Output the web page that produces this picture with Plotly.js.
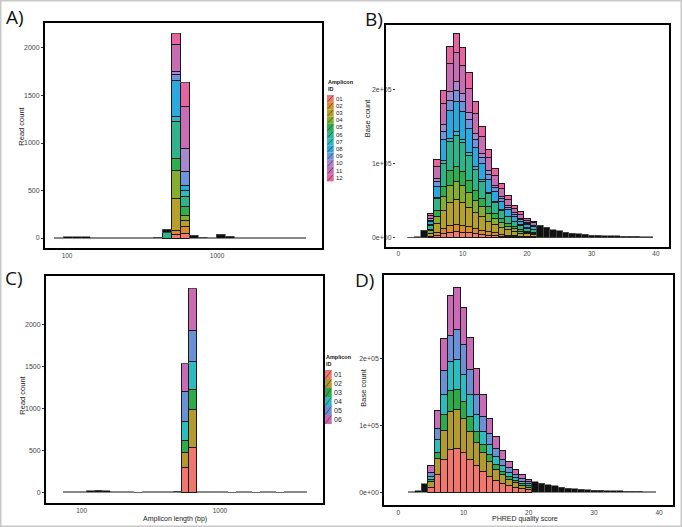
<!DOCTYPE html>
<html>
<head>
<meta charset="utf-8">
<script src="https://cdn.plot.ly/plotly-3.0.1.min.js"></script>
<style>
  html, body { margin: 0; padding: 0; background: #fff; }
  #chart { width: 682px; height: 527px; }
</style>
</head>
<body>
<div id="chart"></div>
<script>
const W = 682;
const H = 527;

const ids12 = ["01", "02", "03", "04", "05", "06", "07", "08", "09", "10", "11", "12"];
const ids6 = ["01", "02", "03", "04", "05", "06"];
const hue12 = ["#F07A70", "#D98C2A", "#B4A02A", "#86AE2E", "#2FAE4E", "#2DB48A",
               "#2FB8BE", "#2AA8E0", "#6E94E0", "#A887D0", "#C86CB4", "#E8649F"];
const hue6 = ["#F0776E", "#B39A2C", "#2DAA4A", "#2ABCBE", "#6A90D6", "#C96CB5"];

// A) read length, log10(bp) bin centres, 12 amplicons
const lenBinsA = [2.665, 2.725, 2.785];
const readsA = [
  [0, 42, 46],
  [0, 42, 77],
  [0, 333, 63],
  [0, 298, 53],
  [0, 123, 88],
  [58, 386, 112],
  [0, 53, 56],
  [0, 386, 60],
  [0, 53, 140],
  [0, 35, 246],
  [0, 281, 439],
  [0, 123, 253],
];
// tiny counts of the remaining bins (drawn as the black baseline)
const lenBinsRestA = [1.945, 2.005, 2.065, 2.125, 2.185, 2.245, 2.305, 2.365, 2.425, 2.485,
                      2.545, 2.605, 2.665, 2.725, 2.785, 2.845, 2.905, 2.965, 3.025, 3.085,
                      3.145, 3.205, 3.265, 3.325, 3.385, 3.445, 3.505, 3.565];
const readsRestA = [4, 12, 14, 12, 5, 4, 4, 3, 4, 4,
                    5, 8, 35, 0, 0, 28, 6, 5, 38, 18,
                    5, 4, 4, 3, 4, 3, 4, 4];

// B) PHRED score, 12 amplicons, thousands of bases
const qualBinsB = [5, 6, 7, 8, 9, 10, 11, 12, 13, 14, 15, 16, 17, 18, 19, 20, 21];
const basesB = [
  [1, 3, 6, 7.5, 8, 7.5, 6.5, 5.5, 4.5, 3.5, 3, 2, 1.5, 1.5, 1, 1, 0.5],
  [1.2, 4, 7, 9.5, 10, 9, 8, 6.5, 5.5, 4.5, 3.5, 2.5, 2, 1.5, 1, 1, 1],
  [4, 12.5, 24, 31, 33, 31, 26.5, 22, 18, 14, 11, 9, 7, 5, 4, 3, 2.5],
  [3, 9.5, 18, 23, 25, 23, 20, 16.5, 13.5, 10.5, 8.5, 6.5, 5, 4, 3, 2, 2],
  [2.4, 7.5, 14.5, 19, 20, 18.5, 16, 13.5, 11, 9, 7, 5.5, 4, 3, 2.5, 2, 1.5],
  [5, 16, 30.5, 39.5, 42, 39, 34, 28, 23, 18, 14, 11, 8.5, 6.5, 5, 4, 3.5],
  [0.6, 2, 3.5, 4.5, 5, 4.5, 4, 3.5, 2.5, 2, 1.5, 1.5, 1, 1, 1, 0.5, 0.5],
  [4.8, 15, 29, 37.5, 40, 37, 32, 26.5, 21.5, 17, 13.5, 10.5, 8.5, 6.5, 5, 4, 3.5],
  [1.8, 6, 11, 14, 15, 14, 12, 10, 8, 6.5, 5, 4, 3, 2.5, 2, 1.5, 1],
  [1.5, 4.5, 9, 11.5, 12, 11.5, 10, 8, 6.5, 5, 4, 3.5, 2.5, 2, 1.5, 1, 1],
  [4.8, 15.5, 28.5, 37.5, 40, 37.5, 32.5, 27, 22, 17.5, 13.5, 10.5, 8.5, 6.5, 5.5, 3.5, 3],
  [3, 9.5, 18, 23.5, 25, 23.5, 20.5, 17, 14, 11.5, 8.5, 6.5, 5.5, 4, 3.5, 2.5, 2],
];
const qualBinsRestB = [2, 3, 4, 22, 23, 24, 25, 26, 27, 28, 29, 30, 31, 32, 33, 34, 35, 36, 37, 38, 39];
const basesRestB = [0.5, 1.5, 10, 17, 14, 11, 9.4, 7.6, 6.3, 5.4, 4.5, 3.6, 3.1, 2.8, 2.6, 2.4, 2.2, 2.0, 1.8, 1.5, 1.3];

// C) read length, 6 amplicons
const lenBinsC = [2.747, 2.804];
const readsC = [
  [298, 536],
  [179, 444],
  [135, 238],
  [230, 337],
  [357, 369],
  [337, 504],
];
const lenBinsRestC = [1.892, 1.949, 2.006, 2.063, 2.120, 2.177, 2.234, 2.291, 2.348, 2.405,
                      2.462, 2.519, 2.576, 2.633, 2.690, 2.747, 2.804, 2.861, 2.918, 2.975,
                      3.032, 3.089, 3.146, 3.203, 3.260, 3.317, 3.374, 3.431, 3.488, 3.545, 3.602];
const readsRestC = [4, 4, 5, 18, 24, 18, 5, 4, 4, 3,
                    4, 4, 4, 5, 10, 0, 0, 8, 4, 4,
                    4, 3, 4, 4, 3, 4, 4, 3, 4, 4, 5];

// D) PHRED score, 6 amplicons, thousands of bases
const qualBinsD = [5, 6, 7, 8, 9, 10, 11, 12, 13, 14, 15, 16, 17, 18, 19, 20];
const basesD = [
  [7.5, 26, 49.5, 63.5, 66, 59.5, 48.5, 40, 31, 23.5, 17.5, 13, 9.5, 7, 5, 3.5],
  [8.5, 24, 43, 57.5, 57.5, 51.5, 42.5, 34.5, 28.5, 22.5, 17, 13, 9.5, 7, 5, 4],
  [2.5, 9.5, 23.5, 31.5, 30, 25, 22.5, 16.5, 12.5, 10, 7.5, 5.5, 4, 3, 2.5, 2],
  [5, 19, 31, 43.5, 45, 40, 32.5, 25, 19, 15, 11, 8.5, 6.5, 5, 3.5, 3],
  [6.5, 17.5, 35, 38.5, 45, 45, 37.5, 30, 22.5, 16.5, 13, 9.5, 7, 5, 4, 3],
  [9.5, 26, 48, 61.5, 63.5, 56.5, 48.5, 40, 32.5, 23, 17.5, 12.5, 10, 7.5, 6, 4],
];
const qualBinsRestD = [2, 3, 4, 21, 22, 23, 24, 25, 26, 27, 28, 29, 30, 31, 32, 33, 34, 35, 36, 37, 38, 39];
const basesRestD = [1, 2.5, 12.5, 16, 13.5, 11.5, 9.5, 7.5, 6, 5, 4.5, 3.5, 3, 2.8, 2.5, 2.3, 2, 1.8, 1.5, 1.3, 1.1, 1];

const lenTickVals = [2, 3];
const lenTickText = ["100", "1000"];
const readTicks = [0, 500, 1000, 1500, 2000];
const baseTickVals = [0, 100000, 200000];
const baseTickText = ["0e+00", "1e+05", "2e+05"];
const qualTicks = [0, 10, 20, 30, 40];

// pixel -> paper helpers
const px = (v) => v / W;
const py = (v) => 1 - v / H;

function stackTraces(bins, rows, colors, names, width, xa, ya, scale) {
  return rows.map((row, i) => ({
    type: "bar",
    x: bins,
    y: row.map((v) => v * scale),
    width: width,
    name: names[i],
    marker: { color: colors[i], line: { color: "#1a1a1a", width: 1 } },
    xaxis: xa,
    yaxis: ya,
    showlegend: false,
    hoverinfo: "skip",
  }));
}

function restTrace(bins, vals, width, xa, ya, scale) {
  return {
    type: "bar",
    x: bins,
    y: vals.map((v) => v * scale),
    width: width,
    marker: { color: "#111", line: { color: "#555", width: 0.7 } },
    xaxis: xa,
    yaxis: ya,
    showlegend: false,
    hoverinfo: "skip",
  };
}

const traces = [].concat(
  stackTraces(lenBinsA, readsA, hue12, ids12, 0.06, "x", "y", 1),
  [restTrace(lenBinsRestA, readsRestA, 0.06, "x", "y", 1)],
  stackTraces(qualBinsB, basesB, hue12, ids12, 1, "x2", "y2", 1000),
  [restTrace(qualBinsRestB, basesRestB, 1, "x2", "y2", 1000)],
  stackTraces(lenBinsC, readsC, hue6, ids6, 0.057, "x3", "y3", 1),
  [restTrace(lenBinsRestC, readsRestC, 0.057, "x3", "y3", 1)],
  stackTraces(qualBinsD, basesD, hue6, ids6, 1, "x4", "y4", 1000),
  [restTrace(qualBinsRestD, basesRestD, 1, "x4", "y4", 1000)]
);

const tickFont = { family: "Liberation Sans, Arial, sans-serif", size: 7, color: "#444" };
const axisBase = {
  showgrid: false,
  zeroline: false,
  showline: true,
  mirror: true,
  linecolor: "#000",
  linewidth: 2,
  ticks: "outside",
  ticklen: 2,
  tickwidth: 1,
  tickcolor: "#333",
  tickfont: tickFont,
  fixedrange: true,
};
// x tick labels sit right under the frame
const xAxisBase = Object.assign({}, axisBase, {
  ticks: "",
  tickfont: { family: "Liberation Sans, Arial, sans-serif", size: 6.5, color: "#444" },
});

const shapes = [
  {
    type: "rect", xref: "paper", yref: "paper", x0: 0, x1: 1, y0: 0, y1: 1,
    line: { color: "#c8c8c8", width: 3 },
  },
  // panel B frame sits a little left of its value axis
  {
    type: "rect", xref: "paper", yref: "paper",
    x0: px(385), x1: px(670), y0: py(248), y1: py(24),
    line: { color: "#000", width: 2 },
  },
];
const annotations = [];
const labelFont = { family: "Liberation Sans, Arial, sans-serif", size: 7.5, color: "#222" };
const xLabelFont = { family: "Liberation Sans, Arial, sans-serif", size: 7, color: "#222" };

function addText(text, x, y, opts) {
  annotations.push(Object.assign({
    text: text, x: px(x), y: py(y), xref: "paper", yref: "paper",
    showarrow: false, xanchor: "center", yanchor: "middle",
  }, opts));
}

function addLegend(ids, colors, x0, top, keyW, keyH, fontSize) {
  addText("<b>Amplicon<br>ID</b>", x0 - 1, top - 1, {
    xanchor: "left", yanchor: "bottom", align: "left",
    font: { family: "Liberation Sans, Arial, sans-serif", size: 5.5, color: "#111" },
  });
  ids.forEach((id, i) => {
    const y0 = top + i * keyH;
    shapes.push({
      type: "rect", xref: "paper", yref: "paper",
      x0: px(x0), x1: px(x0 + keyW), y0: py(y0 + keyH), y1: py(y0),
      fillcolor: colors[i], line: { width: 0 },
    });
    shapes.push({
      type: "line", xref: "paper", yref: "paper",
      x0: px(x0 + 0.5), y0: py(y0 + keyH - 0.5), x1: px(x0 + keyW - 0.5), y1: py(y0 + 0.5),
      line: { color: "#333", width: 0.6 },
    });
    addText(id, x0 + keyW, y0 + keyH / 2, {
      xanchor: "left",
      font: { family: "Liberation Sans, Arial, sans-serif", size: fontSize, color: "#222" },
    });
  });
}

addLegend(ids12, hue12, 327, 95, 6.7, 7.2, 6);
addLegend(ids6, hue6, 325, 370, 6.7, 9, 7);

// axis titles
addText("Read count", 21.7, 126, { textangle: -90, font: labelFont });
addText("Base count", 368.3, 118, { textangle: -90, font: labelFont });
addText("Read count", 21.7, 395, { textangle: -90, font: labelFont });
addText("Base count", 362.7, 388, { textangle: -90, font: labelFont });
addText("Amplicon length (bp)", 175, 519, { font: xLabelFont });
addText("PHRED quality score", 525, 519, { font: xLabelFont });

// panel letters
const letterFont = { family: "Open Sans, sans-serif", size: 19, color: "#111" };
addText("A)", 15, 17, { font: letterFont });
addText("B)", 374, 18.5, { font: letterFont });
addText("C)", 14.5, 277.5, { font: letterFont });
addText("D)", 364.5, 280, { font: letterFont });

const layout = {
  width: W,
  height: H,
  margin: { l: 0, r: 0, t: 0, b: 0 },
  paper_bgcolor: "#fff",
  plot_bgcolor: "#fff",
  barmode: "stack",
  bargap: 0,
  showlegend: false,
  xaxis: Object.assign({}, xAxisBase, {
    domain: [px(45), px(322)], range: [1.853, 3.70], anchor: "y",
    tickvals: lenTickVals, ticktext: lenTickText,
  }),
  yaxis: Object.assign({}, axisBase, {
    domain: [py(248), py(23)], range: [-105, 2263], anchor: "x", tickvals: readTicks,
  }),
  xaxis2: Object.assign({}, xAxisBase, {
    domain: [px(396), px(670)], range: [-0.357, 42.19], anchor: "y2", tickvals: qualTicks,
    showline: false,
  }),
  yaxis2: Object.assign({}, axisBase, {
    domain: [py(248), py(24)], range: [-13880, 288000], anchor: "x2",
    tickvals: baseTickVals, ticktext: baseTickText, showline: false,
  }),
  xaxis3: Object.assign({}, xAxisBase, {
    domain: [px(46), px(323)], range: [1.742, 3.745], anchor: "y3",
    tickvals: lenTickVals, ticktext: lenTickText,
  }),
  yaxis3: Object.assign({}, axisBase, {
    domain: [py(503.3), py(276)], range: [-131, 2575], anchor: "x3", tickvals: readTicks,
  }),
  xaxis4: Object.assign({}, xAxisBase, {
    domain: [px(384.3), px(672.7)], range: [-2.147, 42.09], anchor: "y4", tickvals: qualTicks,
  }),
  yaxis4: Object.assign({}, axisBase, {
    domain: [py(505), py(275)], range: [-19055, 326000], anchor: "x4",
    tickvals: baseTickVals, ticktext: baseTickText,
  }),
  shapes: shapes,
  annotations: annotations,
};

Plotly.newPlot("chart", traces, layout, { displayModeBar: false, staticPlot: true });
</script>
</body>
</html>
